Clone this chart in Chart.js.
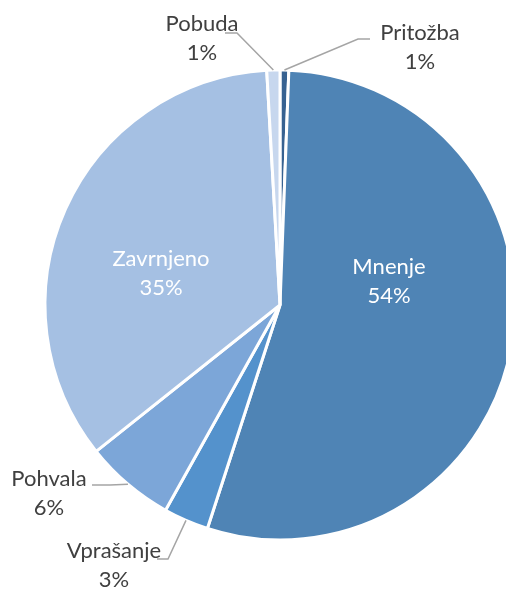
<!DOCTYPE html>
<html>
<head>
<meta charset="utf-8">
<script src="https://cdn.jsdelivr.net/npm/chart.js@4/dist/chart.umd.min.js"></script>
<style>
  body { margin: 0; background: #fff; }
</style>
</head>
<body>
<canvas id="chart" width="506" height="590"></canvas>
<script>
// podatki (ocenjeno s slike), vrstni red v smeri urinega kazalca od vrha
var kategorije = ["Pritožba", "Mnenje", "Vprašanje", "Pohvala", "Zavrnjeno", "Pobuda"];
var vrednosti = [0.6, 54.4, 3.1, 6.2, 34.8, 0.9];
var barve = ["#376291", "#4F84B5", "#5492CC", "#7CA6D8", "#A5C0E3", "#C7D7EE"];

// kje stojijo oznake: sredina besedila, osnovna crta prve vrstice, komolec crte
var oznake = [
    { x: 420, y: 40, barva: "#404040", crta: [[370, 39], [358, 39]] },
    { x: 389, y: 274, barva: "#ffffff", crta: null },
    { x: 114, y: 558, barva: "#404040", crta: [[157, 559], [168, 559]] },
    { x: 49, y: 486, barva: "#404040", crta: [[92, 485], [110, 485]] },
    { x: 161, y: 266, barva: "#ffffff", crta: null },
    { x: 202, y: 31, barva: "#404040", crta: [[225, 33], [237, 33]] }
];

var oznakePlugin = {
    id: "oznake",
    afterDatasetsDraw: function (chart) {
        var ctx = chart.ctx;
        var meta = chart.getDatasetMeta(0);
        var vsota = vrednosti.reduce(function (a, b) { return a + b; }, 0);
        ctx.save();
        for (var i = 0; i < meta.data.length; i++) {
            var arc = meta.data[i];
            var o = oznake[i];
            if (o.crta) {
                var kot = (arc.startAngle + arc.endAngle) / 2;
                var r = arc.outerRadius;
                ctx.beginPath();
                ctx.strokeStyle = "#A5A5A5";
                ctx.lineWidth = 1.5;
                ctx.moveTo(o.crta[0][0], o.crta[0][1]);
                ctx.lineTo(o.crta[1][0], o.crta[1][1]);
                ctx.lineTo(arc.x + Math.cos(kot) * r, arc.y + Math.sin(kot) * r);
                ctx.stroke();
            }
            ctx.fillStyle = o.barva;
            ctx.font = "22px Lato";
            ctx.textAlign = "center";
            ctx.textBaseline = "alphabetic";
            ctx.fillText(kategorije[i], o.x, o.y);
            ctx.fillText(Math.round(vrednosti[i] / vsota * 100) + "%", o.x, o.y + 29);
        }
        ctx.restore();
    }
};

var canvas = document.getElementById("chart").getContext("2d");
window.pita = new Chart(canvas, {
    type: "pie",
    data: {
        labels: kategorije,
        datasets: [{
            data: vrednosti,
            backgroundColor: barve,
            borderColor: "#ffffff",
            borderWidth: 3
        }]
    },
    options: {
        responsive: false,
        animation: false,
        radius: 235,
        layout: { padding: { left: 54, right: 0, top: 20, bottom: 0 } },
        plugins: {
            legend: { display: false },
            tooltip: { enabled: false }
        }
    },
    plugins: [oznakePlugin]
});
</script>
</body>
</html>
